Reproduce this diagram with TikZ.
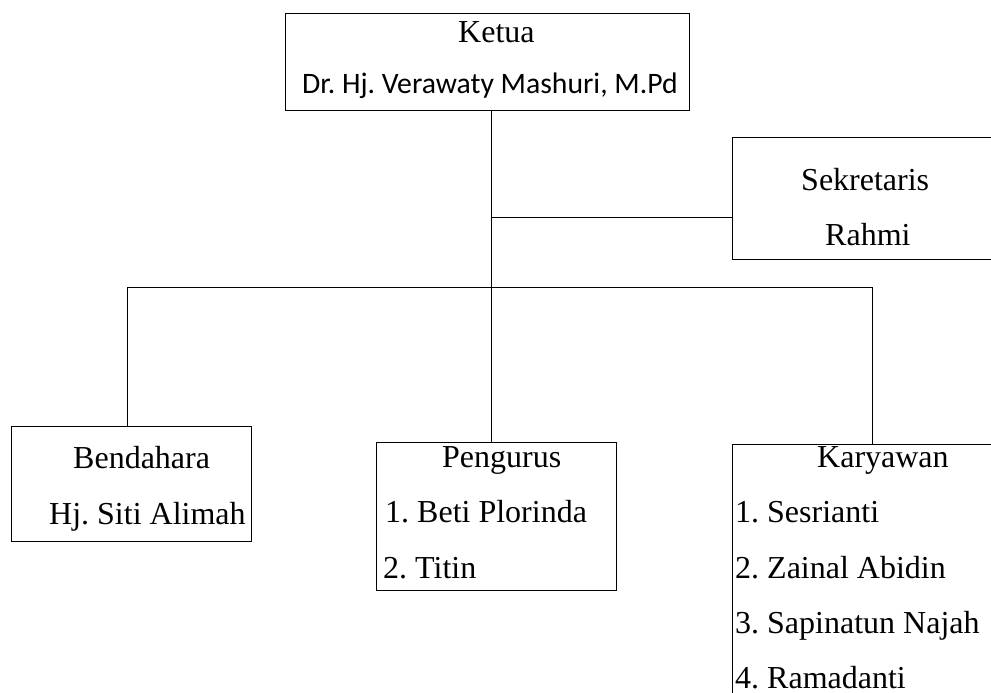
\documentclass[tikz,border=0pt]{standalone}
\usepackage{fontspec}
\setmainfont{Liberation Serif}
\newfontfamily\calib{Carlito}
\frenchspacing
\begin{document}
\begin{tikzpicture}[x=1pt,y=-1pt,
  box/.style={draw, line width=1.2pt, inner sep=0pt, anchor=north west},
  txt/.style={inner sep=0pt, anchor=base west, font=\frenchspacing\fontsize{32}{38}\selectfont},
  ctxt/.style={inner sep=0pt, anchor=base west, font=\frenchspacing\calib\fontsize{29.7}{35}\selectfont},
  conn/.style={line width=0.9pt}]
\useasboundingbox (0,0) rectangle (991,693);
\clip (0,0) rectangle (991,693);
% boxes
\node[box, minimum width=404pt, minimum height=97pt] (ketua) at (285,13) {};
\node[box, minimum width=300pt, minimum height=122pt] (sekretaris) at (732,137) {};
\node[box, minimum width=240pt, minimum height=115pt] (bendahara) at (11,426) {};
\node[box, minimum width=240pt, minimum height=148pt] (pengurus) at (376,442) {};
\node[box, minimum width=300pt, minimum height=300pt] (karyawan) at (732,444) {};
% texts
\node[txt] (t1) at (458,43) {Ketua};
\node[ctxt] (t2) at (302,93) {Dr. Hj. Verawaty Mashuri, M.Pd};
\node[txt] (t3) at (801,190) {Sekretaris};
\node[txt] (t4) at (825,245) {Rahmi};
\node[txt] (t5) at (73,468) {Bendahara};
\node[txt] (t6) at (49,524) {Hj. Siti Alimah};
\node[txt] (t7) at (442,467) {Pengurus};
\node[txt] (t8) at (385,522) {1. Beti Plorinda};
\node[txt] (t9) at (383,578) {2. Titin};
\node[txt] (t10) at (817,467) {Karyawan};
\node[txt] (t11) at (735,522) {1. Sesrianti};
\node[txt] (t12) at (735,578) {2. Zainal Abidin};
\node[txt] (t13) at (735,633) {3. Sapinatun Najah};
\node[txt] (t14) at (735,688) {4. Ramadanti};
% connectors
\coordinate (top) at (491,110);
\coordinate (sj) at (491,217);
\coordinate (hub) at (491,287);
\coordinate (bl) at (127,287);
\coordinate (br) at (872,287);
\draw[conn] (top) -- (hub);
\draw[conn] (sj) -- (sj -| sekretaris.west);
\draw[conn] (bl) -- (br);
\draw[conn] (bl) -- (bl |- bendahara.north);
\draw[conn] (hub) -- (hub |- pengurus.north);
\draw[conn] (br) -- (br |- karyawan.north);
\end{tikzpicture}
\end{document}
